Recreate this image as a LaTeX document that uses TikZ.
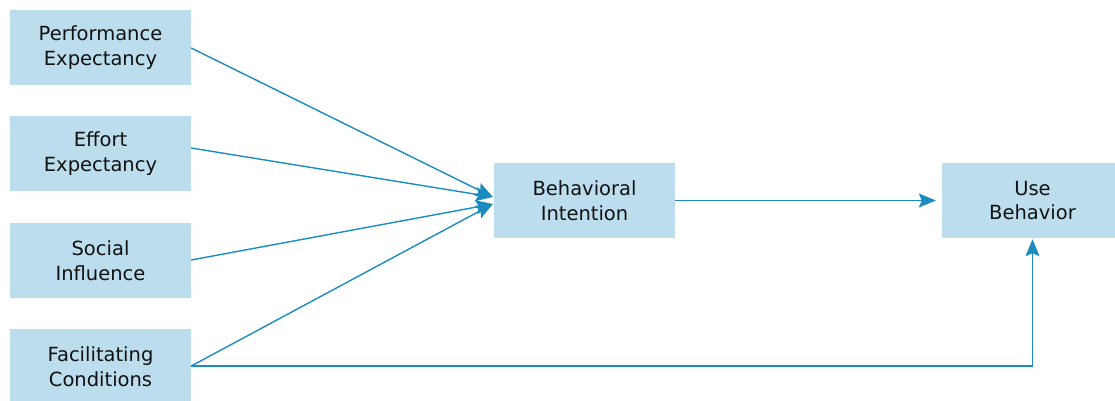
\documentclass[tikz,border=0pt]{standalone}
\usepackage{fontspec}
\setmainfont{DejaVu Sans}
\usetikzlibrary{arrows.meta,calc}
\definecolor{boxfill}{HTML}{BBDDED}
\definecolor{arrowc}{HTML}{1A8CBF}
\definecolor{txt}{HTML}{111111}
\begin{document}
\begin{tikzpicture}[x=1pt,y=-1pt,
  box/.style={fill=boxfill,draw=none,minimum width=181pt,minimum height=75pt,inner sep=0pt,align=center,text=txt,font=\fontsize{19.5}{24.5}\selectfont},
  conn/.style={draw=arrowc,line width=1.4pt,-{Stealth[length=17pt,width=14pt,inset=3pt]}}]
\useasboundingbox (0,0) rectangle (1115,401);
\node[box] (pe) at (100.5,47.5) {Performance\\Expectancy};
\node[box] (ee) at (100.5,153.5) {Effort\\Expectancy};
\node[box] (si) at (100.5,260.5) {Social\\Influence};
\node[box] (fc) at (100.5,366.5) {Facilitating\\Conditions};
\node[box] (bi) at (584.5,200.5) {Behavioral\\Intention};
\node[box] (ub) at (1032.5,200.5) {Use\\Behavior};
\draw[conn] ($(pe.east)+(0,0.5)$) -- ($(bi.west)+(-1,-3.5)$);
\draw[conn] ($(ee.east)+(0,-5.5)$) -- ($(bi.west)+(-1,-3.5)$);
\draw[conn] ($(si.east)+(0,-0.5)$) -- ($(bi.west)+(-1,3.5)$);
\draw[conn] ($(fc.east)+(0,-0.5)$) -- ($(bi.west)+(-1,3.5)$);
\draw[conn] (bi.east) -- ($(ub.west)+(-6,0)$);
\draw[conn] ($(fc.east)+(0,-0.5)$) -| ($(ub.south)+(0,1)$);
\end{tikzpicture}
\end{document}
